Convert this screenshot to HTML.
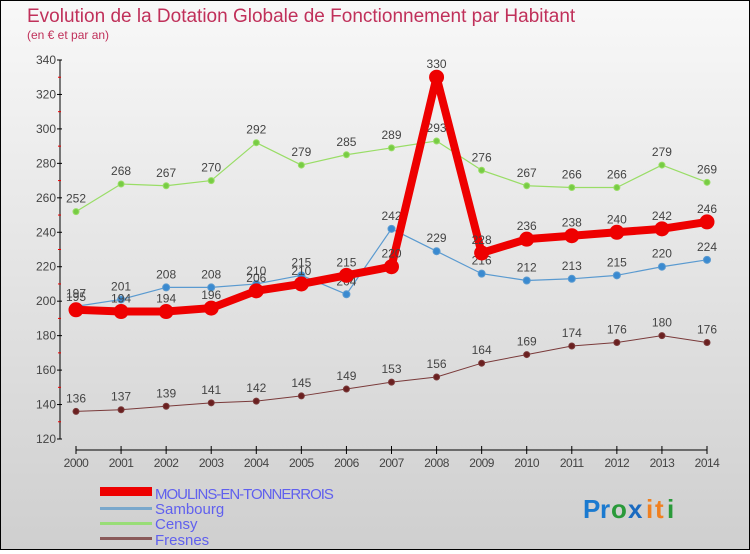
<!DOCTYPE html>
<html><head><meta charset="utf-8"><style>
html,body{margin:0;padding:0}
body{width:750px;height:550px;overflow:hidden;font-family:"Liberation Sans",sans-serif}
#wrap{position:relative;width:748px;height:548px;border:1px solid #000;background:linear-gradient(#f8f8f8,#cfcfcf)}
</style></head><body>
<div id="wrap">
<svg id="chart" width="748" height="548" viewBox="1 1 748 548">
<text x="27" y="22" font-size="19" fill="#c0305a">Evolution de la Dotation Globale de Fonctionnement par Habitant</text>
<text x="27" y="39" font-size="12" fill="#c0305a">(en € et par an)</text>
<g id="axes"></g>
<g id="series"></g>
<g id="legend">
<rect x="100" y="487" width="52" height="9" fill="#e00"/>
<text x="155" y="499" font-size="15" fill="#6060ee" letter-spacing="-1">MOULINS-EN-TONNERROIS</text>
<rect x="100" y="507" width="52" height="3" fill="#7aa8cc"/>
<text x="155" y="514" font-size="15" fill="#6060ee">Sambourg</text>
<rect x="100" y="522" width="52" height="3" fill="#99dd77"/>
<text x="155" y="529" font-size="15" fill="#6060ee">Censy</text>
<rect x="100" y="537" width="52" height="3" fill="#8a5a5a"/>
<text x="155" y="545" font-size="15" fill="#6060ee">Fresnes</text>
</g>
<g font-size="26" font-weight="bold">
<text x="583" y="518" fill="#1a7ad0">P</text><text x="600" y="518" fill="#1a7ad0">r</text><text x="611" y="518" fill="#2a9a3a">o</text><text x="628" y="518" fill="#1a6ac0">x</text><text x="646" y="518" fill="#f08020">i</text><text x="655" y="518" fill="#f08020">t</text><text x="667" y="518" fill="#2a9a3a">i</text>
</g>
</svg>
</div>
<script>
const years=[2000,2001,2002,2003,2004,2005,2006,2007,2008,2009,2010,2011,2012,2013,2014];
const yTicks=[120,140,160,180,200,220,240,260,280,300,320,340];
const moulins=[195,194,194,196,206,210,215,220,330,228,236,238,240,242,246];
const sambourg=[197,201,208,208,210,215,204,242,229,216,212,213,215,220,224];
const censy=[252,268,267,270,292,279,285,289,293,276,267,266,266,279,269];
const fresnes=[136,137,139,141,142,145,149,153,156,164,169,174,176,180,176];
const NS="http://www.w3.org/2000/svg";
const x0=76,x1=707,yMin=120,yMax=340,py0=439,py1=60;
function xs(i){return x0+(x1-x0)*i/(years.length-1);}
function ys(v){return py0-(v-yMin)*(py0-py1)/(yMax-yMin);}
function mk(tag,attrs,parent){const e=document.createElementNS(NS,tag);for(const k in attrs)e.setAttribute(k,attrs[k]);parent.appendChild(e);return e;}
const axes=document.getElementById('axes');
const ax=mk('line',{x1:60,y1:py1,x2:60,y2:py0,stroke:'#000','stroke-width':1},axes);


const bx=mk('line',{x1:x0,y1:450,x2:x1,y2:450,stroke:'#000','stroke-width':1},axes);


yTicks.forEach((t,i)=>{
  const y=ys(t);
  mk('line',{x1:57,y1:y,x2:62,y2:y,stroke:'#000'},axes);
  if(i<yTicks.length-1){mk('line',{x1:58,y1:ys(t+10),x2:61,y2:ys(t+10),stroke:'#e00'},axes);}
  const tx=mk('text',{x:56,y:y+4,'font-size':12,fill:'#444','text-anchor':'end'},axes);
  tx.textContent=t;
  
  
});
years.forEach((yr,i)=>{
  const x=xs(i);
  mk('line',{x1:x,y1:446,x2:x,y2:454,stroke:'#000'},axes);
  const tx=mk('text',{x:x,y:467,'font-size':12,fill:'#444','text-anchor':'middle','letter-spacing':'-0.5'},axes);
  tx.textContent=yr;
  
  
});
const g=document.getElementById('series');
function draw(name,data,color,w,r,dot){
  const grp=mk('g',{},g);
  
  
  const pts=data.map((v,i)=>xs(i)+','+ys(v)).join(' ');
  const pl=mk('polyline',{points:pts,fill:'none',stroke:color,'stroke-width':w,'stroke-linejoin':'round'},grp);
  
  
  data.forEach((v,i)=>{
    const c=mk('circle',{cx:xs(i),cy:ys(v),r:r,fill:dot,stroke:color,'stroke-width':1},grp);
    
    
    const t=mk('text',{x:xs(i),y:ys(v)-9,'font-size':12,fill:'#444','text-anchor':'middle'},grp);
    t.textContent=v;
    
    
  });
}
draw('fresnes',fresnes,'#7a3a3a',1,3,'#6a2020');
draw('censy',censy,'#99dd66',1.2,3,'#77cc44');
draw('sambourg',sambourg,'#5a9ad0',1.2,3.5,'#3a8ad0');
draw('moulins',moulins,'#ee0000',8,7,'#ee0000');
</script>
</body></html>
